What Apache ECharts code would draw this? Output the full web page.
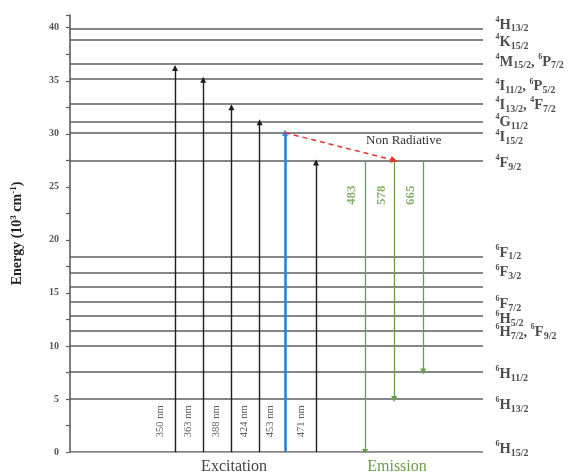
<!DOCTYPE html>
<html><head><meta charset="utf-8">
<script src="https://cdn.jsdelivr.net/npm/echarts@6/dist/echarts.min.js"></script>
<style>html,body{margin:0;padding:0;background:#fff}#c{width:571px;height:475px}</style>
</head><body><div id="c"></div>
<script>
// ---- data (energies in 10^3 cm^-1) ----
const levelEnergies = [39.9, 38.9, 36.6, 35.2, 32.8, 31.1, 30.1, 27.5, 18.4, 16.9, 15.6, 14.2, 12.8, 11.4, 10.0, 7.6, 5.0, 0];
const levelTerms = ['4H13/2', '4K15/2', '4M15/2, 6P7/2', '4I11/2, 6P5/2', '4I13/2, 4F7/2', '4G11/2', '4I15/2', '4F9/2',
  '6F1/2', '6F3/2', '', '6F7/2', '6H5/2', '6H7/2, 6F9/2', '', '6H11/2', '6H13/2', '6H15/2'];
const excitationNm = [350, 363, 388, 424, 453, 471];
const excitationTop = [36.2, 35.1, 32.5, 31.1, 30.1, 27.3];
const pumpedNm = 453;
const emissionNm = [483, 578, 665];
const emissionFrom = 27.5;
const emissionTo = [0, 5.0, 7.6];
const nonRadiativeTo = 578;
const yTickLabels = [0, 5, 10, 15, 20, 25, 30, 35, 40];

// ---- layout (not data) ----
const F = '"Liberation Serif", "Times New Roman", serif';
const X_MIN = -3.723, X_MAX = 10.92;
const EXC_COL = [0, 1, 2, 3, 3.9, 5];
const EM_COL = [6.74, 7.77, 8.8];
const EXC_LABEL_Y = 2.9, EM_LABEL_Y = 24.2;
const LABEL_DY = [-4, 3, -2, 8, 1, 0, 5, 3, -4, 0, 0, 3, 3, 1, 0, 3, 6, -3];
const GREEN = '#6a9e47', BLUE = '#2b7fd3', RED = '#e53232', GRAY = '#5e5e5e';

function term(s) {
  return s.replace(/(\d)([A-Z])(\d+\/2)/g, '{p|$1}{m|$2}{b|$3}').replace(/, /g, '{c|, }');
}
const termRich = {
  p: {fontFamily: F, fontWeight: 'bold', fontSize: 8, lineHeight: 10, verticalAlign: 'top', color: '#222'},
  m: {fontFamily: F, fontWeight: 'bold', fontSize: 14.5, lineHeight: 18, color: '#222'},
  c: {fontFamily: F, fontWeight: 'bold', fontSize: 14.5, lineHeight: 18, color: '#222'},
  b: {fontFamily: F, fontWeight: 'bold', fontSize: 10, lineHeight: 11, verticalAlign: 'bottom', color: '#222'}
};

const pumpIdx = excitationNm.indexOf(pumpedNm);
const nrIdx = emissionNm.indexOf(nonRadiativeTo);

const chart = echarts.init(document.getElementById('c'), null, {renderer: 'canvas'});
chart.setOption({
  animation: false,
  backgroundColor: '#fff',
  grid: {left: 70, right: 88, top: 15, bottom: 23, containLabel: false},
  xAxis: {type: 'value', min: X_MIN, max: X_MAX, show: false},
  yAxis: {
    type: 'value', min: 0, max: 41.2, interval: 2.5,
    axisLine: {show: true, onZero: false, lineStyle: {color: GRAY, width: 1.6}},
    axisTick: {show: true, length: 4, lineStyle: {color: GRAY, width: 1.2}},
    splitLine: {show: false},
    axisLabel: {
      formatter: v => yTickLabels.includes(v) ? String(v) : '',
      fontFamily: F, fontWeight: 'bold', fontSize: 10, color: '#555', margin: 11
    },
    name: '{t|Energy (10}{s|3}{t| cm}{s|-1}{t|)}',
    nameLocation: 'middle', nameRotate: 90, nameGap: 44,
    nameTextStyle: {
      rich: {
        t: {fontFamily: F, fontWeight: 'bold', fontSize: 14, lineHeight: 17, color: '#222'},
        s: {fontFamily: F, fontWeight: 'bold', fontSize: 9, lineHeight: 10, verticalAlign: 'top', color: '#222'}
      }
    }
  },
  series: [
    { // energy levels
      type: 'lines', coordinateSystem: 'cartesian2d', z: 1, silent: true,
      symbol: ['none', 'none'],
      lineStyle: {color: GRAY, width: 1.7, opacity: 1},
      data: levelEnergies.map(e => ({coords: [[X_MIN, e], [X_MAX, e]]}))
    },
    { // level term labels
      type: 'scatter', z: 3, silent: true, clip: false, symbolSize: 1,
      itemStyle: {color: 'rgba(0,0,0,0)'},
      data: levelEnergies.map((e, i) => ({
        value: [X_MAX, e, levelTerms[i]],
        label: {offset: [0, LABEL_DY[i]]}
      })),
      label: {show: true, position: 'right', distance: 12, formatter: p => term(p.value[2]), rich: termRich}
    },
    { // excitation arrows
      type: 'lines', coordinateSystem: 'cartesian2d', z: 4, silent: true,
      symbol: ['none', 'triangle'], symbolSize: 6,
      lineStyle: {color: '#1e1e1e', width: 1.4, opacity: 1},
      data: excitationNm.map((nm, i) => ({
        coords: [[EXC_COL[i], 0], [EXC_COL[i], excitationTop[i]]],
        lineStyle: nm === pumpedNm ? {color: BLUE, width: 2.6} : undefined
      }))
    },
    { // emission arrows
      type: 'lines', coordinateSystem: 'cartesian2d', z: 4, silent: true,
      symbol: ['none', 'triangle'], symbolSize: 6,
      lineStyle: {color: GREEN, width: 1.3, opacity: 1},
      data: emissionNm.map((nm, j) => ({coords: [[EM_COL[j], emissionFrom], [EM_COL[j], emissionTo[j]]]}))
    },
    { // non radiative relaxation
      type: 'lines', coordinateSystem: 'cartesian2d', z: 5, silent: true,
      symbol: ['none', 'triangle'], symbolSize: 7,
      lineStyle: {color: RED, width: 1.5, type: [5, 4], opacity: 1},
      data: [{coords: [[EXC_COL[pumpIdx], excitationTop[pumpIdx]], [EM_COL[nrIdx], emissionFrom]]}]
    },
    { // excitation wavelength labels
      type: 'scatter', z: 6, silent: true, clip: false, symbolSize: 1,
      itemStyle: {color: 'rgba(0,0,0,0)'},
      data: excitationNm.map((nm, i) => [EXC_COL[i], EXC_LABEL_Y, nm]),
      label: {show: true, position: 'inside', rotate: 90, offset: [0, -15],
        formatter: p => p.value[2] + ' nm', fontFamily: F, fontSize: 10.5, color: '#333'}
    },
    { // emission wavelength labels
      type: 'scatter', z: 6, silent: true, clip: false, symbolSize: 1,
      itemStyle: {color: 'rgba(0,0,0,0)'},
      data: emissionNm.map((nm, j) => [EM_COL[j], EM_LABEL_Y, nm]),
      label: {show: true, position: 'inside', rotate: 90, offset: [0, -13],
        formatter: p => String(p.value[2]), fontFamily: F, fontWeight: 'bold', fontSize: 13, color: GREEN}
    }
  ],
  graphic: [
    {type: 'text', x: 366, y: 141, silent: true,
      style: {text: 'Non Radiative', align: 'left', verticalAlign: 'middle', font: '13px "Liberation Serif"', fill: '#333'}},
    {type: 'text', x: 234, y: 467, silent: true,
      style: {text: 'Excitation', align: 'center', verticalAlign: 'middle', font: '16px "Liberation Serif"', fill: '#444'}},
    {type: 'text', x: 397, y: 467, silent: true,
      style: {text: 'Emission', align: 'center', verticalAlign: 'middle', font: '16px "Liberation Serif"', fill: GREEN}}
  ]
});
</script>
</body></html>
